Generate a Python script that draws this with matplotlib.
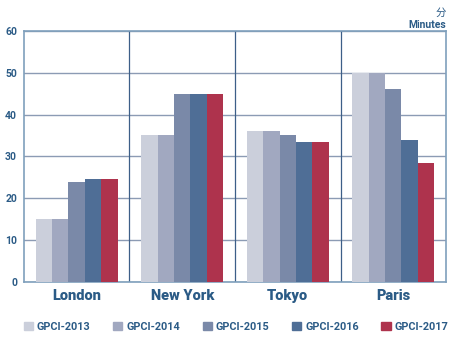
import matplotlib
matplotlib.use('Agg')
import matplotlib.pyplot as plt
import numpy as np
from matplotlib.patches import Patch

plt.rcParams['font.family'] = ['Roboto', 'Noto Sans CJK SC', 'DejaVu Sans']

cities = ['London', 'New York', 'Tokyo', 'Paris']
series = ['GPCI-2013', 'GPCI-2014', 'GPCI-2015', 'GPCI-2016', 'GPCI-2017']
gpci_2013 = [15, 35, 36, 50]
gpci_2014 = [15, 35, 36, 50]
gpci_2015 = [23.8, 45, 35, 46]
gpci_2016 = [24.5, 45, 33.5, 34]
gpci_2017 = [24.5, 45, 33.5, 28.5]
values = [gpci_2013, gpci_2014, gpci_2015, gpci_2016, gpci_2017]
colors = ['#CBCFDB', '#A1A8C0', '#7A89A8', '#4F6E96', '#AE334D']
text_c = '#2B5B86'

fig = plt.figure(figsize=(4.61, 3.43), dpi=100)
ax = fig.add_axes([0.052, 0.178, 0.9155, 0.732])

x = np.arange(len(cities))
w = 0.156
for i, (vals, c) in enumerate(zip(values, colors)):
    ax.bar(x + (i - 2) * w, vals, w, color=c, label=series[i], zorder=3)

ax.set_xlim(-0.5, len(cities) - 0.5)
ax.set_ylim(0, 60)
ax.set_yticks(range(0, 61, 10))
ax.yaxis.grid(True, color='#8C9BB4', lw=1.0, zorder=1)
for b in x[:-1] + 0.5:
    ax.axvline(b, color='#3D5F88', lw=0.9, zorder=2)
for s in ax.spines.values():
    s.set_color('#7FA0BC')
    s.set_linewidth(1.2)

ax.set_xticks(x)
ax.set_xticklabels(cities, fontsize=10.5, fontweight='heavy', color=text_c)
ax.tick_params(axis='x', length=0, pad=5)
ax.tick_params(axis='y', length=0, pad=5, labelsize=7.5, labelcolor=text_c)
for t in ax.get_yticklabels():
    t.set_fontweight('bold')

fig.text(0.9675, 0.962, '分', ha='right', va='center', fontsize=7.5,
         color=text_c, family=['Noto Sans CJK SC', 'DejaVu Sans'])
fig.text(0.9675, 0.928, 'Minutes', ha='right', va='center', fontsize=7.5,
         fontweight='bold', color=text_c)

handles = [Patch(color=c) for c in colors]
leg = fig.legend(handles, series, loc='center', bbox_to_anchor=(0.512, 0.047),
                 ncol=5, frameon=False, handlelength=0.85, handleheight=0.85,
                 handletextpad=0.35, columnspacing=2.1, borderaxespad=0,
                 prop={'size': 7.8, 'weight': 'bold'})
for t in leg.get_texts():
    t.set_color(text_c)

fig.savefig('out.png', dpi=100)
